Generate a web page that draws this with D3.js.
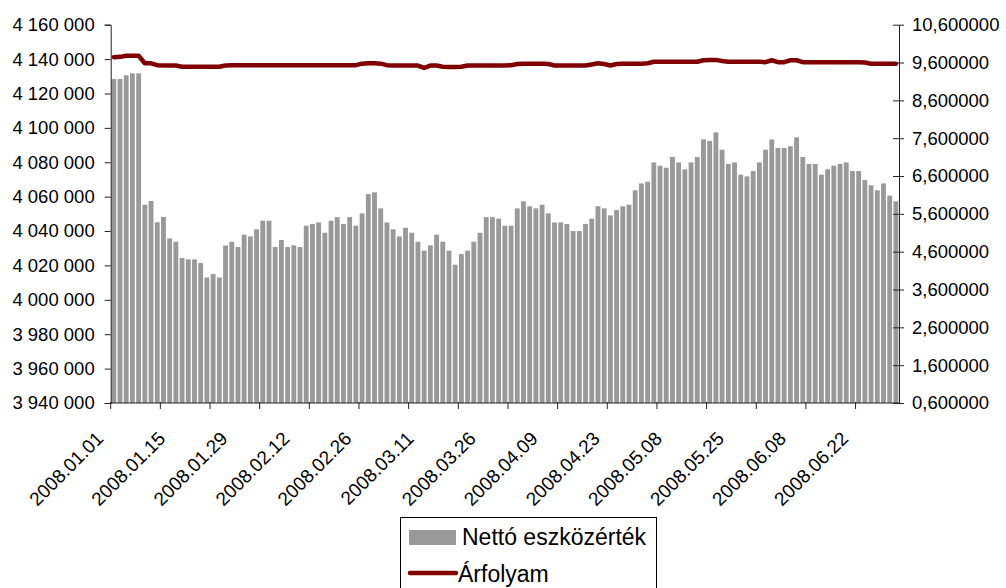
<!DOCTYPE html>
<html>
<head>
<meta charset="utf-8">
<script src="https://cdn.jsdelivr.net/npm/d3@7"></script>
<style>
  body { margin: 0; background: #fff; }
  svg { display: block; font-family: "Liberation Sans", Arial, sans-serif; }
</style>
</head>
<body>
<div id="chart"></div>
<script>
// data
var dateLabels = ['2008.01.01', '2008.01.15', '2008.01.29', '2008.02.12', '2008.02.26', '2008.03.11',
	'2008.03.26', '2008.04.09', '2008.04.23', '2008.05.08', '2008.05.25', '2008.06.08', '2008.06.22'];

var netValues = [
	4128400, 4128400, 4130600, 4131700, 4131700, 4055300, 4057500, 4045100, 4048200, 4035700,
	4033800, 4024300, 4023500, 4023500, 4021400, 4013000, 4015000, 4013000, 4031600, 4033800,
	4030700, 4037900, 4036900, 4041000, 4046000, 4046000, 4030700, 4034800, 4030700, 4031700,
	4030700, 4043100, 4044100, 4045000, 4039000, 4046000, 4048100, 4044100, 4048100, 4043100,
	4050300, 4061500, 4062500, 4053200, 4045000, 4041000, 4036900, 4041900, 4039000, 4033800,
	4028600, 4031700, 4037900, 4033800, 4028600, 4020400, 4026600, 4028600, 4033800, 4039000,
	4048100, 4048100, 4047200, 4043100, 4043100, 4053200, 4057300, 4054400, 4053200, 4055300,
	4050300, 4045000, 4045000, 4044100, 4040000, 4040000, 4044100, 4047200, 4054400, 4053200,
	4049100, 4052200, 4054400, 4055300, 4063700, 4067700, 4068700, 4079900, 4078000, 4076800,
	4083100, 4079900, 4075900, 4079900, 4083100, 4093300, 4092400, 4097400, 4087300, 4079000,
	4079900, 4072800, 4071800, 4074900, 4079900, 4087300, 4093300, 4088300, 4088300, 4089300,
	4094500, 4083100, 4079000, 4079000, 4072800, 4075900, 4078000, 4079000, 4079900, 4074900,
	4074900, 4069700, 4066600, 4063700, 4067700, 4060600, 4057300
];

var rateValues = [
	9.74, 9.75, 9.78, 9.78, 9.78, 9.58, 9.58, 9.53, 9.52, 9.52,
	9.52, 9.49, 9.49, 9.49, 9.49, 9.49, 9.49, 9.49, 9.52, 9.53,
	9.53, 9.53, 9.53, 9.53, 9.53, 9.53, 9.53, 9.53, 9.53, 9.53,
	9.53, 9.53, 9.53, 9.53, 9.53, 9.53, 9.53, 9.53, 9.53, 9.53,
	9.57, 9.58, 9.58, 9.57, 9.53, 9.52, 9.52, 9.52, 9.52, 9.52,
	9.46, 9.52, 9.52, 9.49, 9.48, 9.48, 9.49, 9.52, 9.52, 9.52,
	9.52, 9.52, 9.52, 9.52, 9.53, 9.56, 9.57, 9.57, 9.57, 9.57,
	9.56, 9.52, 9.52, 9.52, 9.52, 9.52, 9.52, 9.55, 9.58, 9.56,
	9.52, 9.56, 9.57, 9.57, 9.57, 9.57, 9.58, 9.62, 9.62, 9.62,
	9.62, 9.62, 9.62, 9.62, 9.62, 9.66, 9.67, 9.67, 9.64, 9.62,
	9.62, 9.62, 9.62, 9.62, 9.62, 9.61, 9.66, 9.61, 9.61, 9.66,
	9.66, 9.61, 9.61, 9.61, 9.61, 9.61, 9.61, 9.61, 9.61, 9.61,
	9.61, 9.60, 9.57, 9.57, 9.57, 9.57, 9.57
];

var leftTicks = [3940000, 3960000, 3980000, 4000000, 4020000, 4040000, 4060000,
	4080000, 4100000, 4120000, 4140000, 4160000];
var rightTicks = [0.6, 1.6, 2.6, 3.6, 4.6, 5.6, 6.6, 7.6, 8.6, 9.6, 10.6];

var seriesNames = ['Nettó eszközérték', 'Árfolyam'];

// sizes
var svgWidth = 1006;
var svgHeight = 588;
var plot = { left: 110.7, right: 899, top: 24.7, bottom: 403 };
var barColor = '#999999';
var lineColor = '#800000';
var axisColor = '#222';
var fontSize = 18.5;

var n = netValues.length;
var idx = d3.range(n);

var svg = d3.select('#chart').append('svg').attr('width', svgWidth).attr('height', svgHeight);

// scales
var xBand = d3.scaleBand().domain(idx).range([plot.left, plot.right]).paddingInner(0.22).paddingOuter(0.11);
var xLin = d3.scaleLinear().domain([0, n]).range([plot.left, plot.right]);
var yLeft = d3.scaleLinear().domain([3940000, 4160000]).range([plot.bottom, plot.top]);
var yRight = d3.scaleLinear().domain([0.6, 10.6]).range([plot.bottom, plot.top]);

// bars
svg.append('g').selectAll('rect')
	.data(netValues)
	.enter()
	.append('rect')
	.attr('x', (d, i) => xBand(i))
	.attr('y', d => yLeft(d))
	.attr('width', xBand.bandwidth())
	.attr('height', d => plot.bottom - yLeft(d))
	.attr('fill', barColor);

// price line
var line = d3.line()
	.x((d, i) => xLin(i + 0.5))
	.y(d => yRight(d));

svg.append('path')
	.datum(rateValues)
	.attr('d', line)
	.attr('fill', 'none')
	.attr('stroke', lineColor)
	.attr('stroke-width', 4.5)
	.attr('stroke-linejoin', 'round')
	.attr('stroke-linecap', 'round');

// left axis
var fmtLeft = v => d3.format(',')(v).replace(/,/g, '\u00a0');
var leftAxis = d3.axisLeft(yLeft).tickValues(leftTicks).tickSize(6).tickPadding(10).tickFormat(fmtLeft);
var gL = svg.append('g').attr('transform', `translate(${plot.left},0)`).call(leftAxis);

// right axis
var fmtRight = v => d3.format('.6f')(v).replace('.', ',');
var rightAxis = d3.axisRight(yRight).tickValues(rightTicks).tickSizeInner(5).tickSizeOuter(0).tickPadding(8).tickFormat(fmtRight);
var gR = svg.append('g').attr('transform', `translate(${plot.right},0)`).call(rightAxis);
gR.selectAll('.tick line').attr('x1', -6);

// bottom axis: ticks every 8 categories, labels every 10
var tickIdx = d3.range(0, n + 1, 8);
var gB = svg.append('g').attr('transform', `translate(0,${plot.bottom})`);
gB.append('line').attr('x1', plot.left).attr('x2', plot.right).attr('stroke', axisColor);
gB.selectAll('.xt').data(tickIdx).enter().append('line')
	.attr('class', 'xt')
	.attr('x1', d => xLin(d)).attr('x2', d => xLin(d))
	.attr('y1', -1).attr('y2', 6)
	.attr('stroke', axisColor);

gB.selectAll('.xl').data(dateLabels).enter().append('text')
	.attr('class', 'xl')
	.attr('transform', (d, i) => `translate(${xLin(i * 10 + 0.5) - 14},${32}) rotate(-45)`)
	.attr('text-anchor', 'end')
	.attr('dy', '0.35em')
	.attr('font-size', 19)
	.attr('fill', '#000')
	.text(d => d);

[gL, gR].forEach(function(g) {
	g.select('.domain').attr('stroke', axisColor);
	g.selectAll('.tick line').attr('stroke', axisColor);
	g.selectAll('.tick text').attr('font-size', fontSize).attr('fill', '#000')
		.attr('font-family', '"Liberation Sans", Arial, sans-serif');
});

// legend
var lg = svg.append('g').attr('transform', 'translate(400,517)');
lg.append('rect').attr('x', 0.5).attr('y', 0.5).attr('width', 256).attr('height', 80)
	.attr('fill', '#fff').attr('stroke', '#000');
lg.append('rect').attr('x', 9).attr('y', 13).attr('width', 47).attr('height', 15).attr('fill', barColor);
lg.append('text').attr('x', 62).attr('y', 28).attr('font-size', 23).text(seriesNames[0]);
lg.append('line').attr('x1', 10).attr('x2', 56).attr('y1', 56).attr('y2', 56)
	.attr('stroke', lineColor).attr('stroke-width', 4.5).attr('stroke-linecap', 'round');
lg.append('text').attr('x', 58).attr('y', 65).attr('font-size', 23).text(seriesNames[1]);
</script>
</body>
</html>
